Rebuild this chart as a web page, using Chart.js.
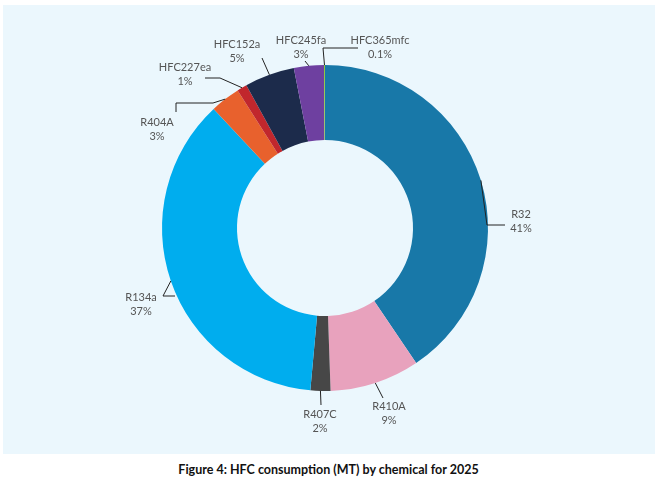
<!DOCTYPE html>
<html>
<head>
<meta charset="utf-8">
<script src="https://cdn.jsdelivr.net/npm/chart.js@4"></script>
<style>
  body { margin: 0; background: #fff; width: 657px; height: 488px; position: relative; font-family: Lato, sans-serif; }
  #panel { position: absolute; left: 3px; top: 5px; width: 652px; height: 449px; background: #ebf7fd; }
  #caption { position: absolute; left: 0; top: 462px; width: 657px; text-align: center; font-weight: bold; font-size: 12.5px; color: #111; }
</style>
</head>
<body>
<div id="panel"><canvas id="donut" width="652" height="449"></canvas></div>
<div id="caption">Figure 4: HFC consumption (MT) by chemical for 2025</div>
<script>
const chemicals = ["R32", "R410A", "R407C", "R134a", "R404A", "HFC227ea", "HFC152a", "HFC245fa", "HFC365mfc"];
const shares = [41, 9, 2, 37, 3, 1, 5, 3, 0.1];
const shareLabels = ["41%", "9%", "2%", "37%", "3%", "1%", "5%", "3%", "0.1%"];
const colors = ["#1878a8", "#e8a2bd", "#474747", "#00adee", "#e8612d", "#c1272d", "#1c2b4b", "#6e40a0", "#8dc63f"];

// label placement (page coords): leader points after the arc edge, then text centre
const OFF = { x: 3, y: 5 };
const labelLayout = [
  { pts: [[487, 225], [505, 225]], text: [521, 221] },
  { pts: [[383, 398]], text: [389, 413] },
  { pts: [[321, 405]], text: [320, 421] },
  { pts: [[163, 296], [175, 296]], text: [141, 304] },
  { pts: [[213, 103], [176, 103], [176, 112]], text: [157, 129] },
  { pts: [[220, 78], [205, 78]], text: [185, 74] },
  { pts: [[262, 58]], text: [237, 51] },
  { pts: [[305, 61]], text: [301, 47] },
  { pts: [[323, 48], [358, 48]], text: [380, 47] }
];

const labelPlugin = {
  id: "leaders",
  afterDatasetsDraw(chart) {
    const ctx = chart.ctx;
    const meta = chart.getDatasetMeta(0);
    ctx.save();
    ctx.font = "11px Lato, sans-serif";
    ctx.fillStyle = "#555";
    ctx.strokeStyle = "#222";
    ctx.lineWidth = 1;
    meta.data.forEach((arc, i) => {
      const lay = labelLayout[i];
      const mid = (arc.startAngle + arc.endAngle) / 2;
      const r = arc.outerRadius;
      ctx.beginPath();
      ctx.moveTo(arc.x + Math.cos(mid) * r, arc.y + Math.sin(mid) * r);
      lay.pts.forEach(p => ctx.lineTo(p[0] - OFF.x, p[1] - OFF.y));
      ctx.stroke();
      ctx.textAlign = "center";
      ctx.textBaseline = "middle";
      const tx = lay.text[0] - OFF.x, ty = lay.text[1] - OFF.y;
      ctx.fillText(chemicals[i], tx, ty - 7);
      ctx.fillText(shareLabels[i], tx, ty + 7);
    });
    ctx.restore();
  }
};

new Chart(document.getElementById("donut"), {
  type: "doughnut",
  data: {
    labels: chemicals,
    datasets: [{ data: shares, backgroundColor: colors, borderWidth: 0 }]
  },
  options: {
    responsive: false,
    animation: false,
    cutout: "54%",
    layout: { padding: { left: 159, right: 167, top: 60, bottom: 63 } },
    plugins: { legend: { display: false }, tooltip: { enabled: false } }
  },
  plugins: [labelPlugin]
});
</script>
</body>
</html>
